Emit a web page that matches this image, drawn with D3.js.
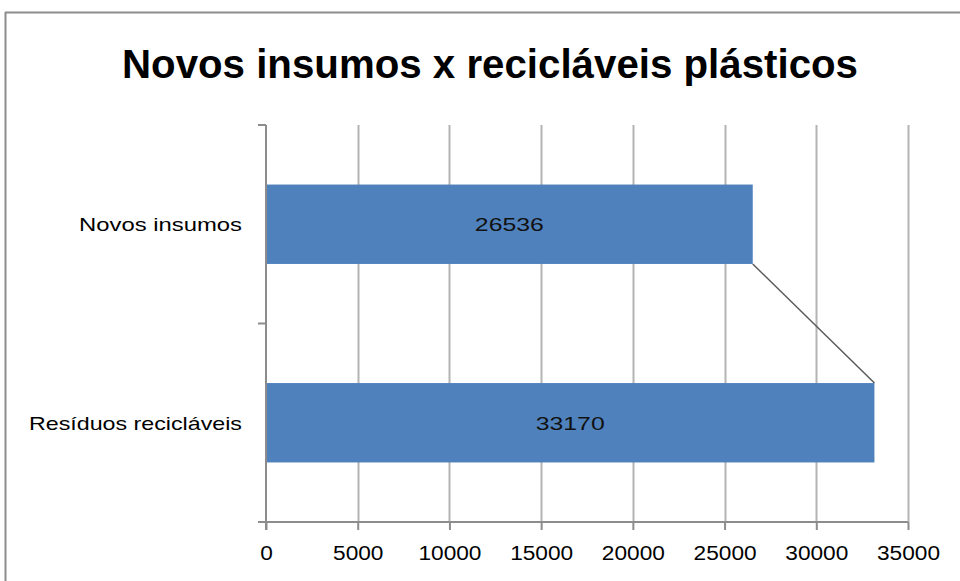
<!doctype html>
<html>
<head>
<meta charset="UTF-8">
<title>Novos insumos x recicláveis plásticos</title>
<script src="https://d3js.org/d3.v7.min.js"></script>
<style>
  body { margin: 0; background: #fff; }
  svg { display: block; }
</style>
</head>
<body>
<svg id="chart" width="960" height="581"></svg>
<script>
// chart data
var title = "Novos insumos x recicláveis plásticos";
var categories = ["Novos insumos", "Resíduos recicláveis"];
var values = [26536, 33170];
var xTicks = [0, 5000, 10000, 15000, 20000, 25000, 30000, 35000];

var svg = d3.select("#chart");
var pLeft = 266, pRight = 908, pTop = 125, pBottom = 522;
var font = "'Liberation Sans', Arial, sans-serif";

// outer frame (only top and left visible)
svg.append("line").attr("x1", 5).attr("x2", 960).attr("y1", 12.5).attr("y2", 12.5)
  .attr("stroke", "#8c8c8c").attr("stroke-width", 2);
svg.append("line").attr("x1", 5.5).attr("x2", 5.5).attr("y1", 12).attr("y2", 581)
  .attr("stroke", "#8c8c8c").attr("stroke-width", 2);

// title
svg.append("text")
  .attr("x", 490).attr("y", 78)
  .attr("text-anchor", "middle")
  .attr("font-family", font)
  .attr("font-weight", "bold")
  .attr("font-size", 40)
  .attr("textLength", 736)
  .attr("lengthAdjust", "spacingAndGlyphs")
  .attr("fill", "#000")
  .text(title);

var x = d3.scaleLinear().domain([0, 35000]).range([pLeft, pRight]);
var y = d3.scaleBand().domain(categories).range([pTop, pBottom]).padding(0);
var bw = y.bandwidth();

// vertical gridlines
svg.selectAll("line.grid").data(xTicks.slice(1)).enter().append("line")
  .attr("class", "grid")
  .attr("x1", function (d) { return Math.round(x(d)) + 0.5; })
  .attr("x2", function (d) { return Math.round(x(d)) + 0.5; })
  .attr("y1", pTop).attr("y2", pBottom)
  .attr("stroke", "#b4b4b4").attr("stroke-width", 2);

// bars
svg.selectAll("rect.bar").data(values).enter().append("rect")
  .attr("class", "bar")
  .attr("x", x(0))
  .attr("y", function (d, i) { return y(categories[i]) + bw * 0.3; })
  .attr("width", function (d) { return x(d) - x(0); })
  .attr("height", bw * 0.4)
  .attr("fill", "#4f81bd");

// series line between bar ends
svg.append("line")
  .attr("x1", x(values[0])).attr("y1", y(categories[0]) + bw * 0.7)
  .attr("x2", x(values[1])).attr("y2", y(categories[1]) + bw * 0.3)
  .attr("stroke", "#5a5a5a").attr("stroke-width", 1.5);

// value labels
svg.selectAll("text.val").data(values).enter().append("text")
  .attr("class", "val")
  .attr("x", function (d) { return (x(0) + x(d)) / 2; })
  .attr("y", function (d, i) { return y(categories[i]) + bw / 2 + 7; })
  .attr("text-anchor", "middle")
  .attr("font-family", font)
  .attr("font-size", 19)
  .attr("textLength", 69)
  .attr("lengthAdjust", "spacingAndGlyphs")
  .attr("fill", "#111")
  .text(function (d) { return d; });

// x axis
var xAxis = d3.axisBottom(x).tickValues(xTicks).tickSize(8).tickFormat(d3.format("d"));
var gx = svg.append("g").attr("transform", "translate(0," + pBottom + ")").call(xAxis);
gx.select(".domain").attr("stroke", "#8c8c8c").attr("stroke-width", 2)
  .attr("d", "M" + (pLeft - 8) + ",0H" + pRight);
gx.selectAll(".tick line").attr("stroke", "#8c8c8c").attr("stroke-width", 2);
gx.selectAll(".tick text")
  .attr("y", 24)
  .attr("dy", "0.71em")
  .attr("font-family", font)
  .attr("font-size", 20)
  .attr("fill", "#000")
  .attr("textLength", function (d) { return String(d).length * 12.6; })
  .attr("lengthAdjust", "spacingAndGlyphs");

// y axis
var yPos = d3.scaleLinear().domain([0, categories.length]).range([pTop, pBottom]);
var gy = svg.append("g").attr("transform", "translate(" + pLeft + ",0)");
gy.append("line").attr("x1", 0).attr("x2", 0).attr("y1", pTop).attr("y2", pBottom + 8)
  .attr("stroke", "#8c8c8c").attr("stroke-width", 2);
gy.selectAll("line.ytick").data(d3.range(categories.length + 1)).enter().append("line")
  .attr("class", "ytick")
  .attr("x1", -8).attr("x2", 0)
  .attr("y1", function (d) { return yPos(d); })
  .attr("y2", function (d) { return yPos(d); })
  .attr("stroke", "#8c8c8c").attr("stroke-width", 2);

var labelWidths = [163, 213];
svg.selectAll("text.cat").data(categories).enter().append("text")
  .attr("class", "cat")
  .attr("x", 242)
  .attr("y", function (d) { return y(d) + bw / 2 + 7; })
  .attr("text-anchor", "end")
  .attr("font-family", font)
  .attr("font-size", 19)
  .attr("fill", "#000")
  .attr("textLength", function (d, i) { return labelWidths[i]; })
  .attr("lengthAdjust", "spacingAndGlyphs")
  .text(function (d) { return d; });
</script>
</body>
</html>
